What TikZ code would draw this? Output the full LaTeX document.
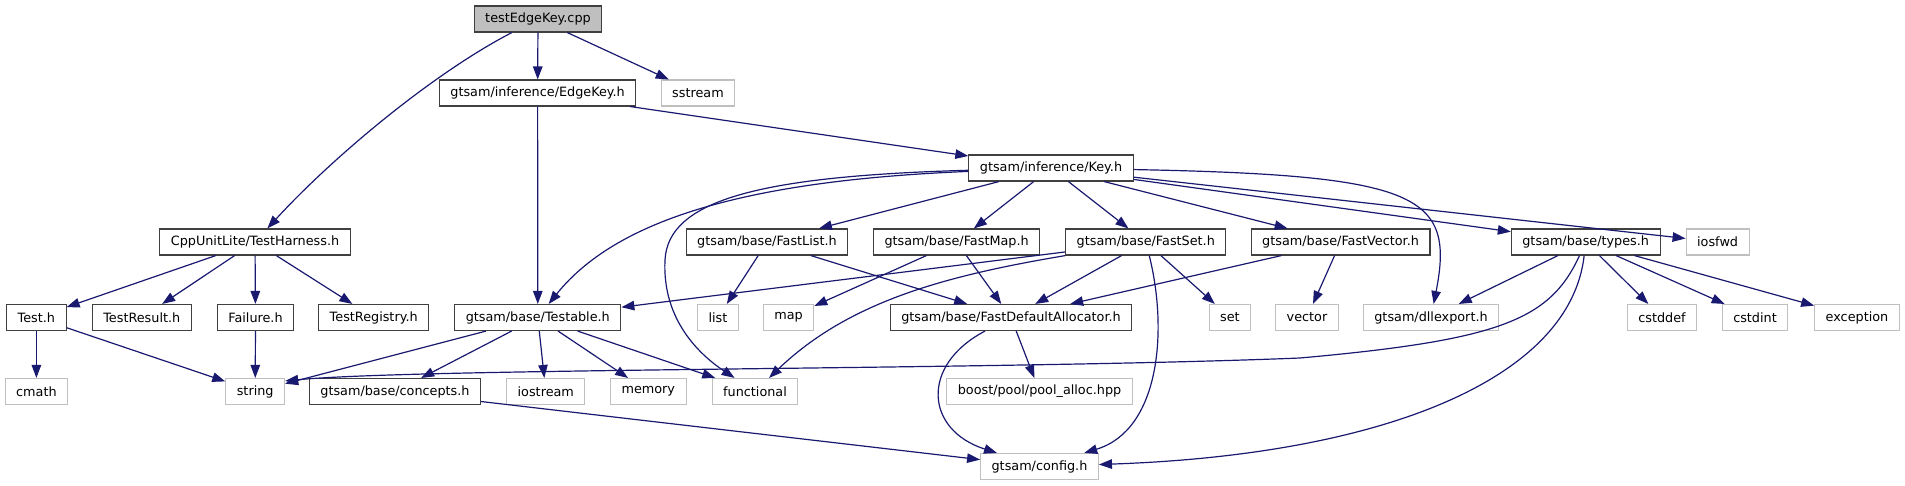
\documentclass[tikz,border=0pt]{standalone}
\usepackage{fontspec}
\setmainfont{DejaVu Sans}
\usepackage{tikz}
\usetikzlibrary{arrows.meta}
\definecolor{edgeblue}{HTML}{191970}
\definecolor{boxgray}{HTML}{BFBFBF}
\definecolor{boxdark}{HTML}{404040}

\begin{document}
\begin{tikzpicture}[x=1pt, y=1pt,
    hfile/.style={draw=boxdark, rectangle, line width=1.1pt, fill=white,
                minimum height=26pt, inner xsep=11pt, inner ysep=0pt,
                font=\fontsize{12.8}{14}\selectfont},
    sysfile/.style={hfile, draw=boxgray},
    rootfile/.style={hfile, fill=boxgray},
    dep/.style={-{Triangle[length=13pt, width=9.5pt]}, line width=1.2pt, draw=edgeblue}
]
\useasboundingbox (0,0) rectangle (1905,-485);

%% ---- ROW 0/1/2: source file and first includes ----
\node [rootfile] (root)     at (538,-19)    {testEdgeKey.cpp};
\node [hfile]    (edgekey)  at (537.6,-93)  {gtsam/inference/EdgeKey.h};
\node [sysfile]  (sstream)  at (698,-93)    {sstream};
\node [hfile]    (keyh)     at (1051,-168)  {gtsam/inference/Key.h};

%% ---- ROW 3 ----
\node [hfile]    (harness)    at (255,-242)    {CppUnitLite/TestHarness.h};
\node [hfile]    (fastlist)   at (767,-242)    {gtsam/base/FastList.h};
\node [hfile]    (fastmap)    at (956.6,-242)  {gtsam/base/FastMap.h};
\node [hfile]    (fastset)    at (1145.8,-242) {gtsam/base/FastSet.h};
\node [hfile]    (fastvector) at (1340.6,-242) {gtsam/base/FastVector.h};
\node [hfile]    (typesh)     at (1585.7,-242) {gtsam/base/types.h};
\node [sysfile]  (iosfwd)     at (1717.6,-242) {iosfwd};

%% ---- ROW 4 ----
\node [hfile]    (testh)      at (36.4,-317.5)  {Test.h};
\node [hfile]    (testresult) at (141.8,-317.5) {TestResult.h};
\node [hfile]    (failure)    at (255.5,-317.5) {Failure.h};
\node [hfile]    (registry)   at (373.7,-317.5) {TestRegistry.h};
\node [hfile]    (testable)   at (537.8,-317.5) {gtsam/base/Testable.h};
\node [sysfile]  (list)       at (718,-317.5)   {list};
\node [sysfile]  (map)        at (788.5,-317.5) {map};
\node [hfile]    (allocator)  at (1011,-317.5)  {gtsam/base/FastDefaultAllocator.h};
\node [sysfile]  (set)        at (1229.9,-317.5) {set};
\node [sysfile]  (vector)     at (1307,-317.5)  {vector};
\node [sysfile]  (dllexport)  at (1431,-317.5)  {gtsam/dllexport.h};
\node [sysfile]  (cstddef)    at (1662,-317.5)  {cstddef};
\node [sysfile]  (cstdint)    at (1755,-317.5)  {cstdint};
\node [sysfile]  (exception)  at (1857,-317.5)  {exception};

%% ---- ROW 5/6 ----
\node [sysfile]  (cmath)      at (36.4,-391.5)   {cmath};
\node [sysfile]  (string)     at (255.2,-391.5)  {string};
\node [hfile]    (concepts)   at (395,-391.5)    {gtsam/base/concepts.h};
\node [sysfile]  (iostream)   at (545.8,-391.5)  {iostream};
\node [sysfile]  (memory)     at (648.3,-391.5)  {memory};
\node [sysfile]  (functional) at (755,-391.5)    {functional};
\node [sysfile]  (poolalloc)  at (1039.5,-391.5) {boost/pool/pool\_alloc.hpp};
\node [sysfile]  (config)     at (1039.5,-466.5) {gtsam/config.h};

%% ---- testEdgeKey.cpp includes ----
\draw [dep] (root) -- (edgekey);
\draw [dep] (root) -- (sstream);
\draw [dep] (root) .. controls (430,-75) and (330,-160) .. (harness);

%% ---- EdgeKey.h / Key.h includes ----
\draw [dep] (edgekey) -- (keyh);
\draw [dep] (edgekey) -- (testable);
\draw [dep] (keyh) .. controls (760,-180) and (620,-215) .. (testable);
\draw [dep] (keyh) .. controls (760,-176) and (668,-200) .. (665,-260)
                   .. controls (662,-320) and (700,-355) .. (functional);
\draw [dep] (keyh) -- (fastlist);
\draw [dep] (keyh) -- (fastmap);
\draw [dep] (keyh) -- (fastset);
\draw [dep] (keyh) -- (fastvector);
\draw [dep] (keyh) .. controls (1420,-175) and (1455,-195) .. (dllexport);
\draw [dep] (keyh) -- (typesh);
\draw [dep] (keyh) -- (iosfwd);

%% ---- CppUnitLite ----
\draw [dep] (harness) -- (testh);
\draw [dep] (harness) -- (testresult);
\draw [dep] (harness) -- (failure);
\draw [dep] (harness) -- (registry);
\draw [dep] (testh)   -- (cmath);
\draw [dep] (testh)   -- (string);
\draw [dep] (failure) -- (string);

%% ---- Testable.h ----
\draw [dep] (testable) -- (string);
\draw [dep] (testable) -- (concepts);
\draw [dep] (testable) -- (iostream);
\draw [dep] (testable) -- (memory);
\draw [dep] (testable) -- (functional);
\draw [dep] (concepts) -- (config);

%% ---- Fast containers ----
\draw [dep] (fastlist) -- (list);
\draw [dep] (fastlist) -- (allocator);
\draw [dep] (fastmap)  -- (map);
\draw [dep] (fastmap)  -- (allocator);
\draw [dep] (fastset)  -- (testable);
\draw [dep] (fastset) .. controls (950,-275) and (850,-300) .. (functional);
\draw [dep] (fastset)  -- (allocator);
\draw [dep] (fastset) .. controls (1168,-330) and (1160,-430) .. (config);
\draw [dep] (fastset)  -- (set);
\draw [dep] (fastvector) -- (allocator);
\draw [dep] (fastvector) -- (vector);
\draw [dep] (allocator) .. controls (920,-365) and (925,-430) .. (config);
\draw [dep] (allocator) -- (poolalloc);

%% ---- types.h ----
\draw [dep] (typesh) -- (dllexport);
\draw [dep] (typesh) .. controls (1550,-320) and (1500,-340) .. (1300,-358)
                     .. controls (1000,-370) and (420,-368) .. ([yshift=-3pt]string.north east);
\draw [dep] (typesh) .. controls (1570,-380) and (1380,-455) .. (config);
\draw [dep] (typesh) -- (cstddef);
\draw [dep] (typesh) -- (cstdint);
\draw [dep] (typesh) -- (exception);

\end{tikzpicture}
\end{document}
